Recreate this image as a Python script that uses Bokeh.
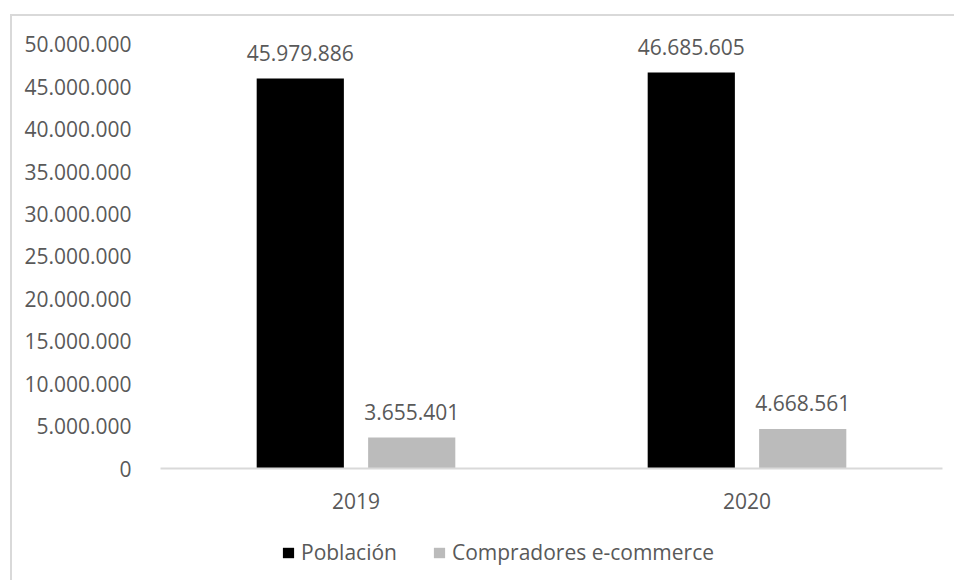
from bokeh.plotting import figure
from bokeh.layouts import column
from bokeh.models import ColumnDataSource, FactorRange, Range1d, Legend, LegendItem, CustomJSTickFormatter
from bokeh.transform import dodge
from bokeh.core.properties import value
from bokeh.embed import file_html
from bokeh.resources import INLINE

years = ["2019", "2020"]
poblacion = [45979886, 46685605]
compradores = [3655401, 4668561]
series_names = ["Población", "Compradores e-commerce"]
series_colors = ["#000000", "#BBBBBB"]
y_ticks = [0, 5000000, 10000000, 15000000, 20000000, 25000000, 30000000, 35000000, 40000000, 45000000, 50000000]

def fmt(v):
    return f"{v:,}".replace(",", ".")

src = ColumnDataSource(dict(
    year=years,
    pob=poblacion,
    comp=compradores,
    pob_lbl=[fmt(v) for v in poblacion],
    comp_lbl=[fmt(v) for v in compradores],
))

FONT = "Open Sans"
TXT = "#595959"

p = figure(x_range=FactorRange(*years, range_padding=0), y_range=Range1d(0, 53300000),
           width=944, height=506, output_backend="svg", toolbar_location=None,
           min_border_left=148, min_border_right=14, min_border_top=0, min_border_bottom=54)
p.outline_line_color = None
p.xgrid.visible = False
p.ygrid.visible = False

r1 = p.vbar(x=dodge("year", -0.1425, range=p.x_range), top="pob", width=0.223, source=src,
            fill_color=series_colors[0], line_color=None)
r2 = p.vbar(x=dodge("year", 0.1425, range=p.x_range), top="comp", width=0.223, source=src,
            fill_color=series_colors[1], line_color=None)

for off, col, lbl in [(-0.1425, "pob", "pob_lbl"), (0.1425, "comp", "comp_lbl")]:
    p.text(x=dodge("year", off, range=p.x_range), y=col, text=lbl, source=src,
           text_font=value(FONT), text_font_size="21px", text_color=TXT,
           text_align="center", text_baseline="alphabetic", y_offset=-26)

p.yaxis.ticker = y_ticks
p.yaxis.formatter = CustomJSTickFormatter(code="return tick.toFixed(0).replace(/\\B(?=(\\d{3})+(?!\\d))/g, '.');")
p.yaxis.axis_line_color = None
p.yaxis.major_tick_line_color = None
p.yaxis.minor_tick_line_color = None
p.yaxis.major_label_standoff = 23
p.yaxis.major_label_text_font = FONT
p.yaxis.major_label_text_font_size = "21px"
p.yaxis.major_label_text_color = TXT

p.xaxis.axis_line_color = "#d9d9d9"
p.xaxis.axis_line_width = 2
p.xaxis.major_tick_line_color = None
p.xaxis.minor_tick_line_color = None
p.xaxis.major_label_standoff = 18
p.xaxis.major_label_text_font = FONT
p.xaxis.major_label_text_font_size = "21px"
p.xaxis.major_label_text_color = TXT

# legend strip below the chart (its frame is aligned with the chart's frame by the column layout)
pl = figure(width=944, height=60, x_axis_type=None, y_axis_type=None, min_border=0,
            output_backend="svg", toolbar_location=None)
pl.outline_line_color = None
k1 = pl.vbar(x=[0], top=[0], width=0, fill_color=series_colors[0], line_color=None)
k2 = pl.vbar(x=[0], top=[0], width=0, fill_color=series_colors[1], line_color=None)
legend = Legend(items=[LegendItem(label=series_names[0], renderers=[k1]),
                       LegendItem(label=series_names[1], renderers=[k2])],
                orientation="horizontal", location="left",
                glyph_width=14, glyph_height=13, label_standoff=6, spacing=35,
                padding=0, margin=121, border_line_color=None, background_fill_alpha=0,
                label_text_font=FONT, label_text_font_size="21px", label_text_color=TXT)
pl.add_layout(legend)

layout = column(p, pl, spacing=0)
layout.margin = (16, 0, 0, 12)
layout.styles = {"box-shadow": "-2px -2px 0 0 #d9d9d9"}

open("out.html", "w").write(file_html(layout, INLINE))
